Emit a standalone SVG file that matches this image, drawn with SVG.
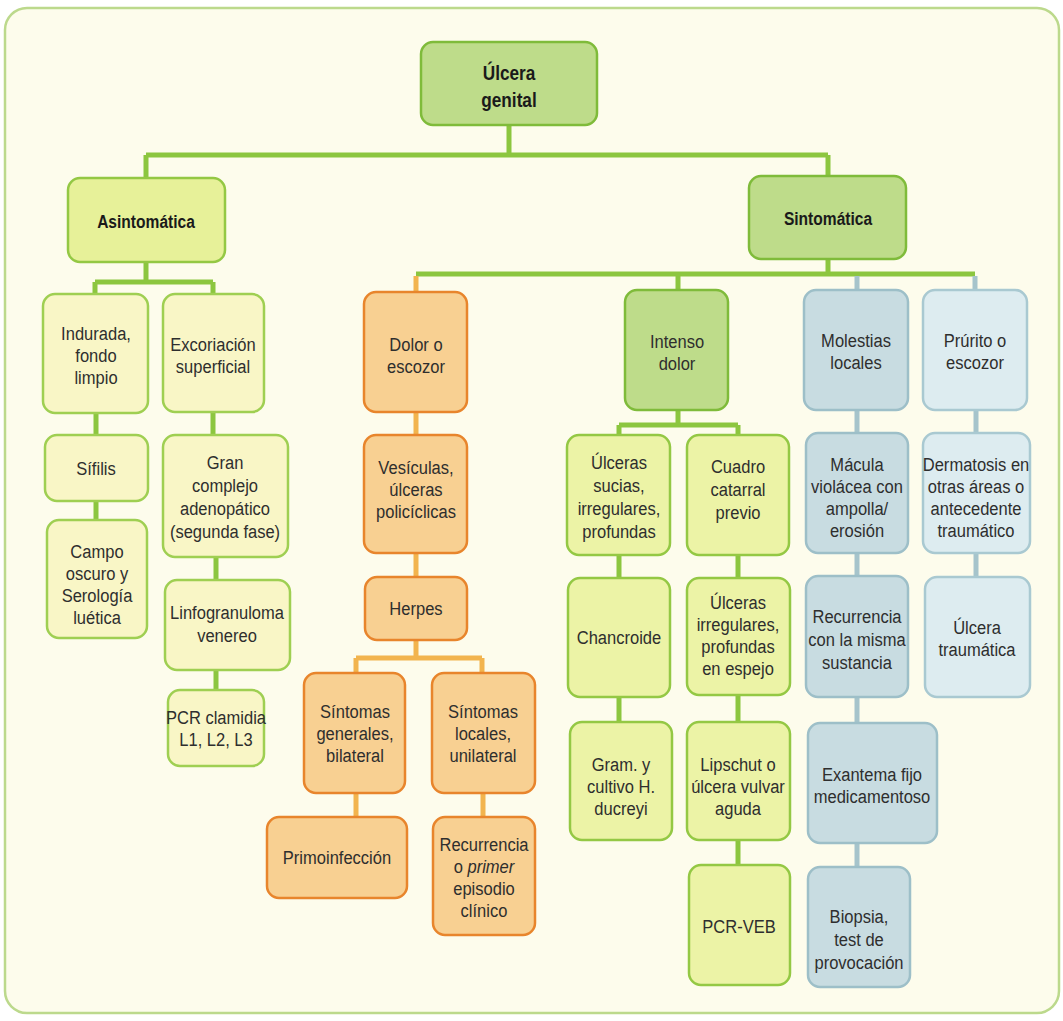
<svg xmlns="http://www.w3.org/2000/svg" width="1063" height="1021" viewBox="0 0 1063 1021">
<style>
text{font-family:"Liberation Sans",Arial,sans-serif;font-size:19px;fill:#2e2e2e;text-anchor:middle}
.b{font-weight:bold;fill:#1a1a1a}
.big{font-size:21px}
rect{stroke-width:2.5}
.g1{fill:#bedc8a;stroke:#7fbb3a}
.g2{fill:#e7f199;stroke:#94c844}
.g3{fill:#f9f6c6;stroke:#9fcf52}
.g4{fill:#ecf3a6;stroke:#94c844}
.o{fill:#f8d092;stroke:#e8852c}
.bl1{fill:#c8dce1;stroke:#9dbfc8}
.bl2{fill:#ddecf0;stroke:#a9c9d1}
.cg{stroke:#8cc63f;stroke-width:5;fill:none}
.co{stroke:#f2b44e;stroke-width:5;fill:none}
.cb{stroke:#a6c4cb;stroke-width:5;fill:none}
</style>
<rect x="0" y="0" width="1063" height="1021" fill="#ffffff" stroke="none"/>
<rect x="5" y="8" width="1054" height="1005" rx="22" fill="#fdfcec" stroke="#bcd98c" stroke-width="2"/>
<g id="connectors">
<path class="cg" d="M509 125V155M146 155H828M146 155V178M828 155V176"/>
<path class="cg" d="M146 262V282M95 282H213M95 282V294M213 282V294"/>
<path class="cg" d="M96 413V435M96 501V520M213 412V435M216 557V580M216 670V690"/>
<path class="cg" d="M828 259V274M416 274H975M678 274V290"/>
<path class="co" d="M416 276V292M416 412V435M416 553V577M416 640V658M356 658H482M356 658V673M482 658V673M356 793V817M483 793V817"/>
<path class="cb" d="M857 276V290M975 276V290"/>
<path class="cg" d="M678 410V425M619 425H738M619 425V435M738 425V435M619 555V578M619 697V722M738 555V578M738 695V722M738 840V865"/>
<path class="cb" d="M857 410V433M857 553V576M857 697V723M857 843V867M976 410V433M976 553V577"/>
</g>
<g id="n-root"><rect class="g1" x="421" y="42" width="176" height="83" rx="12"/><g transform="translate(509 0) scale(0.82 1)"><text class="b big" x="0" y="80">Úlcera</text><text class="b big" x="0" y="107">genital</text></g></g>
<g id="n-asintomatica"><rect class="g2" x="68" y="178" width="157" height="84" rx="12"/><g transform="translate(146 0) scale(0.82 1)"><text class="b" x="0" y="228">Asintomática</text></g></g>
<g id="n-sintomatica"><rect class="g1" x="749" y="176" width="157" height="83" rx="12"/><g transform="translate(828 0) scale(0.82 1)"><text class="b" x="0" y="225">Sintomática</text></g></g>

<g id="n-indurada"><rect class="g3" x="43" y="294" width="105" height="119" rx="12"/><g transform="translate(96 0) scale(0.87 1)"><text x="0" y="340">Indurada,</text><text x="0" y="362">fondo</text><text x="0" y="384">limpio</text></g></g>
<g id="n-sifilis"><rect class="g3" x="45" y="435" width="103" height="66" rx="12"/><g transform="translate(96 0) scale(0.87 1)"><text x="0" y="475">Sífilis</text></g></g>
<g id="n-campo"><rect class="g3" x="47" y="520" width="100" height="118" rx="12"/><g transform="translate(97 0) scale(0.87 1)"><text x="0" y="558">Campo</text><text x="0" y="580">oscuro y</text><text x="0" y="602">Serología</text><text x="0" y="624">luética</text></g></g>
<g id="n-excoriacion"><rect class="g3" x="163" y="294" width="101" height="118" rx="12"/><g transform="translate(213 0) scale(0.87 1)"><text x="0" y="351">Excoriación</text><text x="0" y="373">superficial</text></g></g>
<g id="n-gran"><rect class="g3" x="163" y="435" width="125" height="122" rx="12"/><g transform="translate(225 0) scale(0.87 1)"><text x="0" y="469">Gran</text><text x="0" y="492">complejo</text><text x="0" y="515">adenopático</text><text x="0" y="538">(segunda fase)</text></g></g>
<g id="n-linfo"><rect class="g3" x="165" y="580" width="125" height="90" rx="12"/><g transform="translate(227 0) scale(0.87 1)"><text x="0" y="619">Linfogranuloma</text><text x="0" y="642">venereo</text></g></g>
<g id="n-pcrclam"><rect class="g3" x="168" y="690" width="96" height="76" rx="12"/><g transform="translate(216 0) scale(0.87 1)"><text x="0" y="724">PCR clamidia</text><text x="0" y="746">L1, L2, L3</text></g></g>

<g id="n-dolor"><rect class="o" x="364" y="292" width="103" height="120" rx="12"/><g transform="translate(416 0) scale(0.87 1)"><text x="0" y="351">Dolor o</text><text x="0" y="373">escozor</text></g></g>
<g id="n-vesiculas"><rect class="o" x="364" y="435" width="103" height="118" rx="12"/><g transform="translate(416 0) scale(0.87 1)"><text x="0" y="474">Vesículas,</text><text x="0" y="496">úlceras</text><text x="0" y="518">policíclicas</text></g></g>
<g id="n-herpes"><rect class="o" x="365" y="577" width="102" height="63" rx="12"/><g transform="translate(416 0) scale(0.87 1)"><text x="0" y="615">Herpes</text></g></g>
<g id="n-sintgen"><rect class="o" x="304" y="673" width="101" height="120" rx="12"/><g transform="translate(355 0) scale(0.87 1)"><text x="0" y="718">Síntomas</text><text x="0" y="740">generales,</text><text x="0" y="762">bilateral</text></g></g>
<g id="n-sintloc"><rect class="o" x="432" y="673" width="103" height="120" rx="12"/><g transform="translate(483 0) scale(0.87 1)"><text x="0" y="718">Síntomas</text><text x="0" y="740">locales,</text><text x="0" y="762">unilateral</text></g></g>
<g id="n-primo"><rect class="o" x="267" y="817" width="140" height="81" rx="12"/><g transform="translate(337 0) scale(0.87 1)"><text x="0" y="864">Primoinfección</text></g></g>
<g id="n-recurr"><rect class="o" x="433" y="817" width="102" height="118" rx="12"/><g transform="translate(484 0) scale(0.87 1)"><text x="0" y="851">Recurrencia</text><text x="0" y="873">o <tspan font-style="italic">primer</tspan></text><text x="0" y="895">episodio</text><text x="0" y="917">clínico</text></g></g>

<g id="n-intenso"><rect class="g1" x="625" y="290" width="103" height="120" rx="12"/><g transform="translate(677 0) scale(0.87 1)"><text x="0" y="348">Intenso</text><text x="0" y="370">dolor</text></g></g>
<g id="n-ulcsucias"><rect class="g4" x="567" y="435" width="103" height="120" rx="12"/><g transform="translate(619 0) scale(0.87 1)"><text x="0" y="469">Úlceras</text><text x="0" y="492">sucias,</text><text x="0" y="515">irregulares,</text><text x="0" y="538">profundas</text></g></g>
<g id="n-chancroide"><rect class="g4" x="568" y="578" width="102" height="119" rx="12"/><g transform="translate(619 0) scale(0.87 1)"><text x="0" y="644">Chancroide</text></g></g>
<g id="n-gram"><rect class="g4" x="570" y="722" width="102" height="118" rx="12"/><g transform="translate(621 0) scale(0.87 1)"><text x="0" y="771">Gram. y</text><text x="0" y="793">cultivo H.</text><text x="0" y="815">ducreyi</text></g></g>
<g id="n-cuadro"><rect class="g4" x="687" y="435" width="102" height="120" rx="12"/><g transform="translate(738 0) scale(0.87 1)"><text x="0" y="473">Cuadro</text><text x="0" y="496">catarral</text><text x="0" y="519">previo</text></g></g>
<g id="n-ulcirreg"><rect class="g4" x="687" y="578" width="103" height="117" rx="12"/><g transform="translate(738 0) scale(0.87 1)"><text x="0" y="609">Úlceras</text><text x="0" y="631">irregulares,</text><text x="0" y="653">profundas</text><text x="0" y="675">en espejo</text></g></g>
<g id="n-lipschut"><rect class="g4" x="687" y="722" width="103" height="118" rx="12"/><g transform="translate(738 0) scale(0.87 1)"><text x="0" y="771">Lipschut o</text><text x="0" y="793">úlcera vulvar</text><text x="0" y="815">aguda</text></g></g>
<g id="n-pcrveb"><rect class="g4" x="689" y="865" width="101" height="120" rx="12"/><g transform="translate(739 0) scale(0.87 1)"><text x="0" y="933">PCR-VEB</text></g></g>

<g id="n-molestias"><rect class="bl1" x="804" y="290" width="104" height="120" rx="12"/><g transform="translate(856 0) scale(0.87 1)"><text x="0" y="347">Molestias</text><text x="0" y="369">locales</text></g></g>
<g id="n-macula"><rect class="bl1" x="806" y="433" width="102" height="120" rx="12"/><g transform="translate(857 0) scale(0.87 1)"><text x="0" y="471">Mácula</text><text x="0" y="493">violácea con</text><text x="0" y="515">ampolla/</text><text x="0" y="537">erosión</text></g></g>
<g id="n-recmisma"><rect class="bl1" x="806" y="576" width="102" height="121" rx="12"/><g transform="translate(857 0) scale(0.87 1)"><text x="0" y="623">Recurrencia</text><text x="0" y="646">con la misma</text><text x="0" y="669">sustancia</text></g></g>
<g id="n-exantema"><rect class="bl1" x="808" y="723" width="129" height="120" rx="12"/><g transform="translate(872 0) scale(0.87 1)"><text x="0" y="781">Exantema fijo</text><text x="0" y="803">medicamentoso</text></g></g>
<g id="n-biopsia"><rect class="bl1" x="808" y="867" width="102" height="120" rx="12"/><g transform="translate(859 0) scale(0.87 1)"><text x="0" y="923">Biopsia,</text><text x="0" y="946">test de</text><text x="0" y="969">provocación</text></g></g>
<g id="n-prurito"><rect class="bl2" x="923" y="290" width="104" height="120" rx="12"/><g transform="translate(975 0) scale(0.87 1)"><text x="0" y="347">Prúrito o</text><text x="0" y="369">escozor</text></g></g>
<g id="n-dermatosis"><rect class="bl2" x="923" y="433" width="107" height="120" rx="12"/><g transform="translate(976 0) scale(0.87 1)"><text x="0" y="471">Dermatosis en</text><text x="0" y="493">otras áreas o</text><text x="0" y="515">antecedente</text><text x="0" y="537">traumático</text></g></g>
<g id="n-ulctraum"><rect class="bl2" x="925" y="577" width="105" height="120" rx="12"/><g transform="translate(977 0) scale(0.87 1)"><text x="0" y="634">Úlcera</text><text x="0" y="656">traumática</text></g></g>
</svg>
